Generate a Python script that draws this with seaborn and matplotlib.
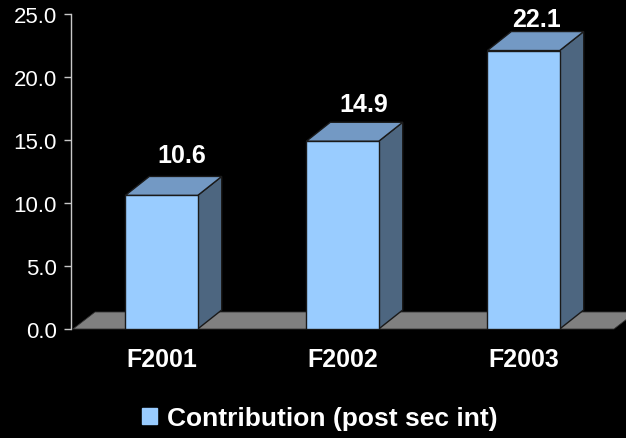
import matplotlib
matplotlib.use("Agg")
import matplotlib.pyplot as plt
import seaborn as sns
import numpy as np
from matplotlib.patches import Polygon, Patch

categories = ["F2001", "F2002", "F2003"]
values = [10.6, 14.9, 22.1]
series_name = "Contribution (post sec int)"
yticks = [0.0, 5.0, 10.0, 15.0, 20.0, 25.0]

FRONT = "#99ccff"
TOP = "#7399c4"
SIDE = "#4d6680"
FLOOR = "#808080"
EDGE = "#1a1a1a"

sns.set_style("dark", {"axes.facecolor": "black", "figure.facecolor": "black"})
plt.rcParams["font.family"] = ["Liberation Sans", "DejaVu Sans"]

W, H = 626, 439
fig = plt.figure(figsize=(W / 100, H / 100), dpi=100, facecolor="black")
ax = fig.add_axes([71 / W, (H - 330) / H, (614 - 71) / W, (330 - 15) / H])
ax.set_facecolor("black")

sns.barplot(x=categories, y=values, color=FRONT, saturation=1, width=0.4,
            edgecolor=EDGE, linewidth=1, ax=ax, zorder=3)

ax.set_xlim(-0.5, 2.5)
ax.set_ylim(0, 25)
ax.set_yticks(yticks)
ax.set_yticklabels([f"{v:.1f}" for v in yticks])
ax.set_xlabel("")
ax.set_ylabel("")
ax.grid(False)

for s in ["top", "right", "bottom"]:
    ax.spines[s].set_visible(False)
ax.spines["left"].set_visible(True)
ax.spines["left"].set_color("#c8c8c8")
ax.spines["left"].set_linewidth(1)

ax.tick_params(axis="y", colors="#c8c8c8", labelcolor="white", labelsize=16,
               length=5, width=1, direction="out", pad=5, left=True)
ax.tick_params(axis="x", length=0, labelcolor="white", labelsize=18, pad=13)
for lab in ax.get_xticklabels():
    lab.set_fontweight("bold")

td = ax.transData
inv = td.inverted()


def to_data(pts):
    return inv.transform(np.array(pts))


# floor
fdx, fdy = 22, 17
p0 = td.transform((-0.5, 0))
p1 = td.transform((2.5, 0))
p0 = p0 + np.array([2, 0])
floor = to_data([p0, p1, p1 + [fdx, fdy], p0 + [fdx, fdy]])
ax.add_patch(Polygon(floor, closed=True, facecolor=FLOOR, edgecolor="#333333",
                     linewidth=0.6, zorder=1, clip_on=False))

# 3D faces
bdx, bdy = 24, 19
label_dx = (20, 21, 13)  # pixel shifts of value labels (style)
for i, (bar, v) in enumerate(zip(ax.patches[:len(values)], values)):
    x0 = bar.get_x()
    x1 = x0 + bar.get_width()
    br = td.transform((x1, 0))
    tl = td.transform((x0, v))
    tr = td.transform((x1, v))
    off = np.array([bdx, bdy])
    top = to_data([tl, tr, tr + off, tl + off])
    side = to_data([br, tr, tr + off, br + off])
    ax.add_patch(Polygon(side, closed=True, facecolor=SIDE, edgecolor=EDGE,
                         linewidth=1, zorder=2.5, clip_on=False))
    ax.add_patch(Polygon(top, closed=True, facecolor=TOP, edgecolor=EDGE,
                         linewidth=1, zorder=2.5, clip_on=False))
    dy = 40.4 - 0.7 * v
    ax.annotate(f"{v:.1f}", xy=((x0 + x1) / 2, v), xytext=(label_dx[i], dy),
                textcoords="offset pixels", ha="center", va="baseline",
                color="white", fontsize=18, fontweight="bold", zorder=5,
                annotation_clip=False)

handle = Patch(facecolor=FRONT, edgecolor=FRONT)
fig.legend(handles=[handle], labels=[series_name], loc="center",
           bbox_to_anchor=(320 / W, (H - 419) / H), frameon=False,
           prop={"size": 19, "weight": "bold"}, labelcolor="white",
           handlelength=0.57, handleheight=0.57, handletextpad=0.38,
           borderpad=0.2)

fig.savefig("out.png", dpi=100, facecolor="black")
